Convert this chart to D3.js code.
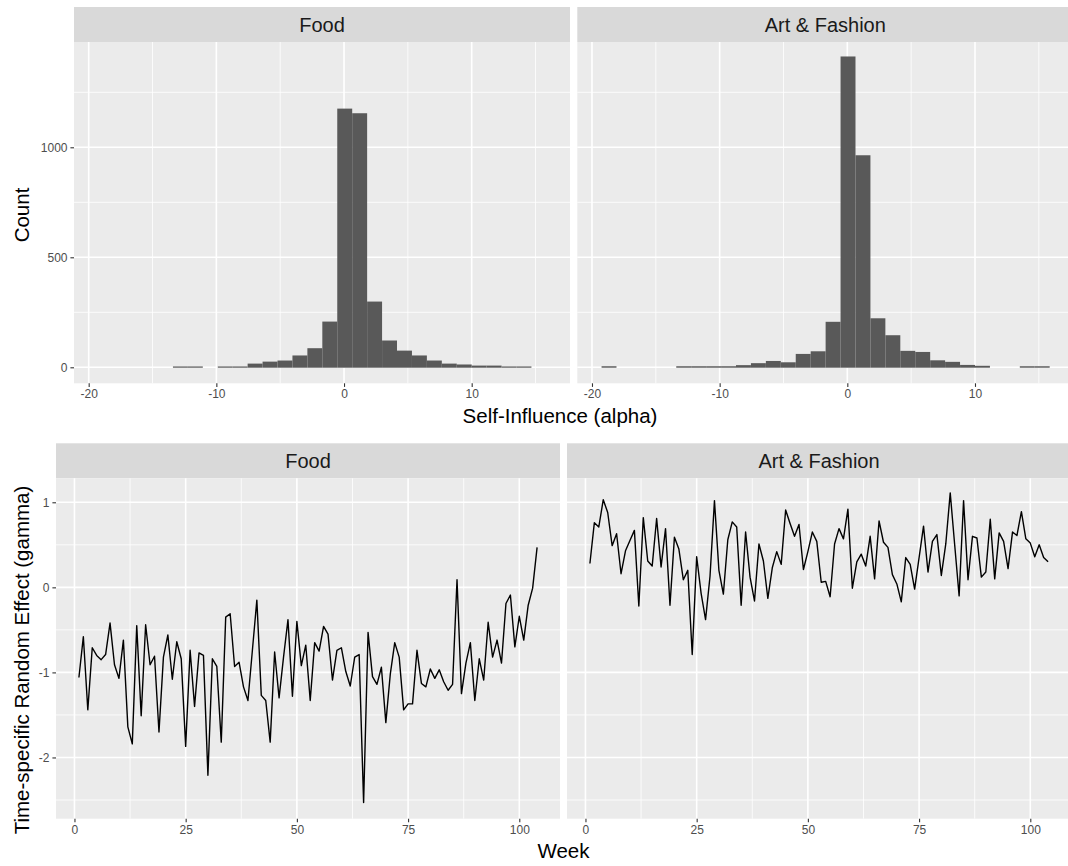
<!DOCTYPE html>
<html>
<head>
<meta charset="utf-8">
<script src="https://cdn.jsdelivr.net/npm/d3@7"></script>
<style>
body { margin: 0; background: #fff; }
text { font-family: "Liberation Sans", Arial, Helvetica, sans-serif; }
</style>
</head>
<body>
<div id="chart_svg"></div>
<script>
// facets
var facets = ["Food", "Art & Fashion"]

// histogram of alpha: lower bin edges (shared by both facets) and the last upper edge
var binEdges = [-19.25, -18.08, -16.91, -15.74, -14.57, -13.40, -12.23, -11.06, -9.89, -8.72,
                -7.55, -6.38, -5.21, -4.04, -2.87, -1.70, -0.53, 0.64, 1.81, 2.98,
                4.15, 5.32, 6.49, 7.66, 8.83, 10.00, 11.17, 12.34, 13.51, 14.68]
var binLast = 15.85
var foodCounts = [0, 0, 0, 0, 0, 2, 2, 0, 2, 2,
                  15, 24, 29, 52, 85, 206, 1174, 1153, 297, 120,
                  74, 52, 29, 15, 11, 6, 6, 2, 2, 0]
var artCounts = [3, 0, 0, 0, 0, 3, 3, 3, 3, 8,
                 17, 27, 21, 59, 71, 205, 1411, 962, 221, 144,
                 73, 68, 30, 23, 9, 5, 0, 0, 3, 3]

// weekly gamma
var weeks = [1, 2, 3, 4, 5, 6, 7, 8, 9, 10, 11, 12, 13, 14, 15, 16, 17, 18, 19, 20,
             21, 22, 23, 24, 25, 26, 27, 28, 29, 30, 31, 32, 33, 34, 35, 36, 37, 38, 39, 40,
             41, 42, 43, 44, 45, 46, 47, 48, 49, 50, 51, 52, 53, 54, 55, 56, 57, 58, 59, 60,
             61, 62, 63, 64, 65, 66, 67, 68, 69, 70, 71, 72, 73, 74, 75, 76, 77, 78, 79, 80,
             81, 82, 83, 84, 85, 86, 87, 88, 89, 90, 91, 92, 93, 94, 95, 96, 97, 98, 99, 100,
             101, 102, 103, 104]
var foodGamma = [-1.06, -0.58, -1.44, -0.71, -0.80, -0.85, -0.79, -0.42, -0.91, -1.07,
                 -0.62, -1.64, -1.84, -0.45, -1.51, -0.44, -0.91, -0.81, -1.70, -0.82,
                 -0.56, -1.08, -0.64, -0.84, -1.87, -0.74, -1.40, -0.77, -0.80, -2.21,
                 -0.84, -0.93, -1.82, -0.35, -0.31, -0.93, -0.88, -1.17, -1.33, -0.74,
                 -0.15, -1.27, -1.33, -1.82, -0.76, -1.30, -0.82, -0.38, -1.28, -0.40,
                 -0.92, -0.68, -1.33, -0.65, -0.75, -0.46, -0.55, -1.09, -0.74, -0.71,
                 -0.99, -1.16, -0.82, -0.79, -2.53, -0.53, -1.05, -1.14, -0.94, -1.59,
                 -1.02, -0.65, -0.82, -1.44, -1.37, -1.37, -0.74, -1.13, -1.17, -0.96,
                 -1.07, -0.97, -1.11, -1.21, -1.14, 0.09, -1.25, -0.89, -0.65, -1.33,
                 -0.84, -1.09, -0.41, -0.82, -0.62, -0.89, -0.19, -0.09, -0.70, -0.34,
                 -0.62, -0.21, -0.01, 0.47]
var artGamma = [0.28, 0.76, 0.71, 1.03, 0.88, 0.49, 0.63, 0.16, 0.43, 0.55,
                0.67, -0.22, 0.82, 0.31, 0.25, 0.81, 0.24, 0.69, -0.21, 0.59,
                0.45, 0.09, 0.20, -0.79, 0.36, -0.07, -0.38, 0.13, 1.02, 0.20,
                -0.08, 0.56, 0.77, 0.71, -0.21, 0.65, 0.12, -0.16, 0.51, 0.31,
                -0.13, 0.23, 0.42, 0.27, 0.91, 0.75, 0.60, 0.74, 0.21, 0.42,
                0.65, 0.54, 0.06, 0.07, -0.11, 0.51, 0.69, 0.57, 0.92, -0.01,
                0.30, 0.39, 0.25, 0.60, 0.10, 0.78, 0.53, 0.47, 0.15, 0.04,
                -0.17, 0.35, 0.27, -0.02, 0.35, 0.72, 0.18, 0.54, 0.62, 0.14,
                0.51, 1.11, 0.50, -0.10, 1.02, 0.09, 0.60, 0.58, 0.12, 0.18,
                0.80, 0.10, 0.64, 0.54, 0.22, 0.65, 0.61, 0.89, 0.57, 0.52,
                0.36, 0.50, 0.35, 0.30]

// ticks
var alphaTicks = [-20, -10, 0, 10]
var alphaMinor = [-15, -5, 5, 15]
var countTicks = [0, 500, 1000]
var countMinor = [250, 750, 1250]
var weekTicks = [0, 25, 50, 75, 100]
var weekMinor = [12.5, 37.5, 62.5, 87.5]
var gammaTicks = [-2, -1, 0, 1]
var gammaMinor = [-2.5, -1.5, -0.5, 0.5]

const totalWidth = 1068
const totalHeight = 866

var svg = d3.select("#chart_svg")
  .append("svg")
  .attr("width", totalWidth)
  .attr("height", totalHeight)

// panel layout in pixels
var topRow = {stripTop: 7, y0: 42, y1: 383.3, panels: [[74, 570], [577.3, 1073.3]]}
var botRow = {stripTop: 443.3, y0: 478.3, y1: 818.7, panels: [[56, 560], [567, 1071]]}

// plain labels like R prints them: "-20", "1000"
var plain = function(d) { return String(d) }

function styleAxis(g) {
  g.attr("font-family", null).attr("font-size", null)
  g.select(".domain").remove()
  g.selectAll(".tick line").attr("stroke", "#333333").attr("stroke-width", 1.1)
  g.selectAll(".tick text")
    .attr("fill", "#4d4d4d")
    .style("font-size", "12px")
}

function drawPanel(row, i, x, y, xMajor, xMinor, yMajor, yMinor, showY) {
  var x0 = row.panels[i][0], x1 = row.panels[i][1]
  // strip
  svg.append("rect")
    .attr("x", x0).attr("y", row.stripTop)
    .attr("width", x1 - x0).attr("height", row.y0 - row.stripTop)
    .attr("fill", "#d9d9d9")
  svg.append("text")
    .attr("x", (x0 + x1) / 2).attr("y", (row.stripTop + row.y0) / 2)
    .attr("dy", "0.36em")
    .attr("text-anchor", "middle")
    .attr("fill", "#1a1a1a")
    .style("font-size", "20px")
    .text(facets[i])
  // background
  svg.append("rect")
    .attr("x", x0).attr("y", row.y0)
    .attr("width", x1 - x0).attr("height", row.y1 - row.y0)
    .attr("fill", "#ebebeb")
  var grid = svg.append("g")
  grid.selectAll(".ymin").data(yMinor).enter().append("line")
    .attr("x1", x0).attr("x2", x1)
    .attr("y1", function(d) { return y(d) }).attr("y2", function(d) { return y(d) })
    .attr("stroke", "#fff").attr("stroke-width", 0.8)
  grid.selectAll(".xmin").data(xMinor).enter().append("line")
    .attr("y1", row.y0).attr("y2", row.y1)
    .attr("x1", function(d) { return x(d) }).attr("x2", function(d) { return x(d) })
    .attr("stroke", "#fff").attr("stroke-width", 0.8)
  grid.selectAll(".ymaj").data(yMajor).enter().append("line")
    .attr("x1", x0).attr("x2", x1)
    .attr("y1", function(d) { return y(d) }).attr("y2", function(d) { return y(d) })
    .attr("stroke", "#fff").attr("stroke-width", 1.6)
  grid.selectAll(".xmaj").data(xMajor).enter().append("line")
    .attr("y1", row.y0).attr("y2", row.y1)
    .attr("x1", function(d) { return x(d) }).attr("x2", function(d) { return x(d) })
    .attr("stroke", "#fff").attr("stroke-width", 1.6)

  // axes
  svg.append("g")
    .attr("transform", "translate(0," + row.y1 + ")")
    .call(d3.axisBottom(x).tickValues(xMajor).tickFormat(plain).tickSize(3.6).tickPadding(2.9))
    .call(styleAxis)
  if (showY) {
    svg.append("g")
      .attr("transform", "translate(" + x0 + ",0)")
      .call(d3.axisLeft(y).tickValues(yMajor).tickFormat(plain).tickSize(3.6).tickPadding(2.9))
      .call(styleAxis)
  }
}

// top row: histograms
var topCounts = [foodCounts, artCounts]
var yCount = d3.scaleLinear().domain([-72.7, 1478.6]).range([topRow.y1, topRow.y0])
topRow.panels.forEach(function(p, i) {
  var x = d3.scaleLinear().domain([-21.15, 17.7]).range(p)
  drawPanel(topRow, i, x, yCount, alphaTicks, alphaMinor, countTicks, countMinor, i === 0)
  var bins = binEdges.map(function(e, k) {
    return {lo: e, hi: k + 1 < binEdges.length ? binEdges[k + 1] : binLast, n: topCounts[i][k]}
  })
  svg.append("g").selectAll("rect").data(bins.filter(function(d) { return d.n > 0 }))
    .enter().append("rect")
    .attr("x", function(d) { return x(d.lo) })
    .attr("width", function(d) { return x(d.hi) - x(d.lo) })
    .attr("y", function(d) { return yCount(d.n) - 0.4 })
    .attr("height", function(d) { return yCount(0) - yCount(d.n) + 0.8 })
    .attr("fill", "#595959")
})

// bottom row: gamma over weeks
var botSeries = [foodGamma, artGamma]
var yGamma = d3.scaleLinear().domain([-2.72, 1.282]).range([botRow.y1, botRow.y0])
botRow.panels.forEach(function(p, i) {
  var x = d3.scaleLinear().domain([-4.15, 109.15]).range(p)
  drawPanel(botRow, i, x, yGamma, weekTicks, weekMinor, gammaTicks, gammaMinor, i === 0)
  var pts = weeks.map(function(w, k) { return {x: w, y: botSeries[i][k]} })
  svg.append("path")
    .datum(pts)
    .attr("fill", "none")
    .attr("stroke", "black")
    .attr("stroke-width", 1.4)
    .attr("stroke-linejoin", "round")
    .attr("d", d3.line()
      .x(function(d) { return x(d.x) })
      .y(function(d) { return yGamma(d.y) })
    )
})

// axis titles
function title(txt, x, y, rot) {
  svg.append("text")
    .attr("transform", "translate(" + x + "," + y + ")" + (rot ? " rotate(-90)" : ""))
    .attr("text-anchor", "middle")
    .attr("dy", "0.36em")
    .attr("fill", "black")
    .style("font-size", "20.5px")
    .text(txt)
}
title("Count", 22, 215, true)
title("Self-Influence (alpha)", 560, 416, false)
title("Time-specific Random Effect (gamma)", 22, 660, true)
title("Week", 563.5, 851, false)
</script>
</body>
</html>
